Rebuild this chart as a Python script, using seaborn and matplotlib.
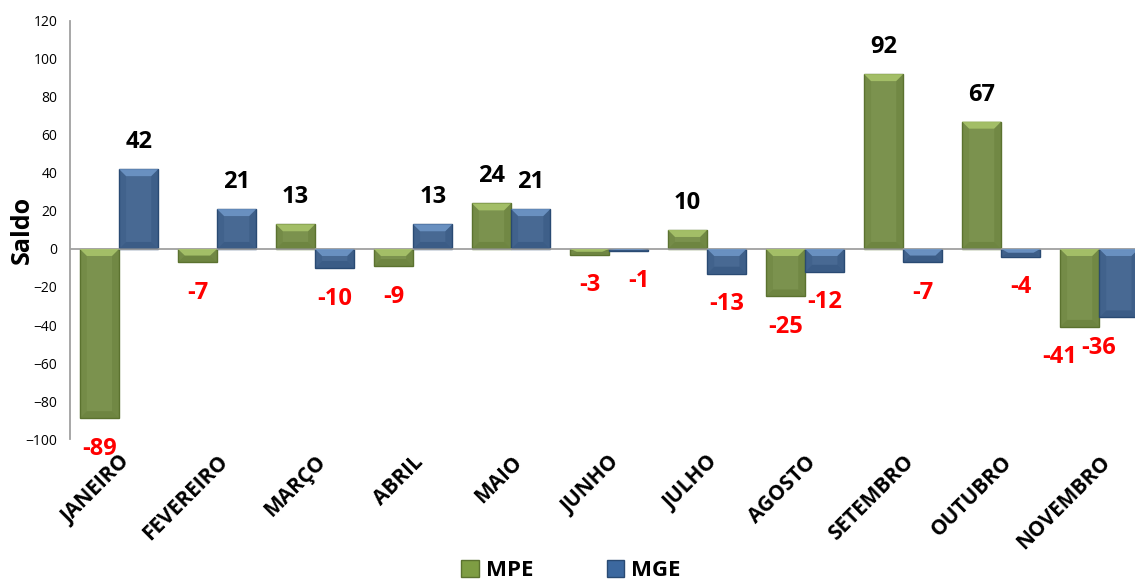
import numpy as np
import pandas as pd
import matplotlib
matplotlib.use("Agg")
import matplotlib.pyplot as plt
from matplotlib.patches import Polygon
import seaborn as sns

# data
MESES = ['JANEIRO', 'FEVEREIRO', 'MARÇO', 'ABRIL', 'MAIO', 'JUNHO',
         'JULHO', 'AGOSTO', 'SETEMBRO', 'OUTUBRO', 'NOVEMBRO']
MPE = [-89, -7, 13, -9, 24, -3, 10, -25, 92, 67, -41]
MGE = [42, 21, -10, 13, 21, -1, -13, -12, -7, -4, -36]
SERIES = ['MPE', 'MGE']
Y_TICKS = list(range(-100, 121, 20))

# small nudges (in px) Excel applied to crowded labels: (serie, mes) -> dx
NUDGE = {('MGE', 'JUNHO'): 10, ('MPE', 'NOVEMBRO'): -20, ('MGE', 'NOVEMBRO'): -20}

COLORS = {'MPE': ('#7E9D43', '#A8C46A', '#5B722F'),
          'MGE': ('#3C689F', '#6D95C6', '#294A73')}

sns.set_style('white')
plt.rcParams['font.family'] = ['Open Sans', 'DejaVu Sans']
plt.rcParams['text.color'] = 'black'
plt.rcParams['axes.labelcolor'] = 'black'

df = pd.DataFrame({
    'mes': MESES * 2,
    'serie': ['MPE'] * len(MESES) + ['MGE'] * len(MESES),
    'saldo': MPE + MGE,
})

fig = plt.figure(figsize=(11.35, 5.8), dpi=100)
ax = fig.add_axes([0.0617, 0.243, 0.950, 0.721])

sns.barplot(data=df, x='mes', y='saldo', hue='serie', order=MESES,
            hue_order=SERIES, palette=[COLORS[s][0] for s in SERIES],
            width=0.8, gap=0, errorbar=None, ax=ax, legend=False)

ax.set_xlim(-0.5, len(MESES) - 0.5)
ax.set_ylim(-100, 120)
ax.set_yticks(Y_TICKS)

# px -> data unit scales for bevel drawing
bbox = ax.get_window_extent()
ux = (len(MESES)) / bbox.width
uy = 220 / bbox.height
bev = 7

for serie, cont in zip(SERIES, ax.containers):
    face, light, dark = COLORS[serie]
    vals = MPE if serie == 'MPE' else MGE
    for mes, v, p in zip(MESES, vals, cont.patches):
        p.set_edgecolor(dark)
        p.set_linewidth(1.0)
        x0, w = p.get_x(), p.get_width()
        y_lo, y_hi = min(0, v), max(0, v)
        bx = min(bev * ux, w / 2)
        by = min(bev * uy, (y_hi - y_lo) / 2)
        top = [(x0, y_hi), (x0 + w, y_hi), (x0 + w - bx, y_hi - by), (x0 + bx, y_hi - by)]
        bot = [(x0, y_lo), (x0 + w, y_lo), (x0 + w - bx, y_lo + by), (x0 + bx, y_lo + by)]
        left = [(x0, y_lo), (x0, y_hi), (x0 + bx, y_hi - by), (x0 + bx, y_lo + by)]
        right = [(x0 + w, y_lo), (x0 + w, y_hi), (x0 + w - bx, y_hi - by), (x0 + w - bx, y_lo + by)]
        for poly, c, a in [(top, light, 0.9), (bot, dark, 0.4), (left, dark, 0.2), (right, dark, 0.3)]:
            ax.add_patch(Polygon(poly, closed=True, facecolor=c, edgecolor='none', alpha=a, zorder=p.get_zorder() + 0.1))

        dx = NUDGE.get((serie, mes), 0) * 0.72
        if v >= 0:
            ax.annotate(f'{v}', (x0 + w / 2, v), xytext=(dx, 19.5), textcoords='offset points',
                        ha='center', va='center', fontsize=17, fontweight='bold', color='black')
        else:
            ax.annotate(f'{v}', (x0 + w / 2, v), xytext=(dx, -22), textcoords='offset points',
                        ha='center', va='center', fontsize=17, fontweight='bold', color='#FF0000',
                        annotation_clip=False)

ax.axhline(0, color='#A0A0A0', lw=1.3, zorder=1)

for s in ['top', 'right', 'bottom']:
    ax.spines[s].set_visible(False)
ax.spines['left'].set_color('#A0A0A0')
ax.spines['left'].set_linewidth(1.3)
ax.tick_params(axis='y', direction='out', length=5, color='#A0A0A0', labelcolor='black',
               labelsize=10, pad=4)
ax.tick_params(axis='x', length=0, pad=9, labelcolor='black')
ax.set_xticks(range(len(MESES)))
ax.set_xticklabels(MESES, rotation=45, ha='right', rotation_mode='anchor',
                   fontsize=15, fontweight='bold')
ax.set_xlabel('')
ax.set_ylabel('Saldo', fontsize=18, fontweight='bold')
ax.yaxis.set_label_coords(-0.033, 0.5)

handles = [plt.Rectangle((0, 0), 1, 1, facecolor=COLORS[s][0], edgecolor=COLORS[s][2]) for s in SERIES]
fig.legend(handles, SERIES, loc='lower center', bbox_to_anchor=(0.503, -0.037), ncol=2,
           frameon=False, handlelength=0.8, handleheight=0.8, handletextpad=0.3,
           columnspacing=3.3, prop={'weight': 'bold', 'size': 16})

fig.savefig('out.png', dpi=100)
